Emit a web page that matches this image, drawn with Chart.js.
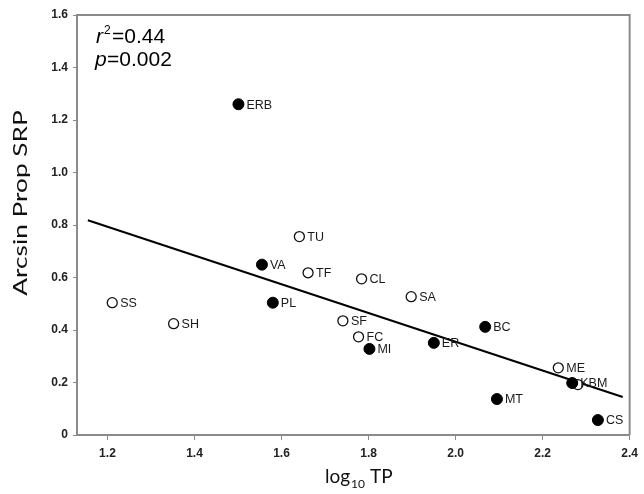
<!DOCTYPE html>
<html>
<head>
<meta charset="utf-8">
<script src="https://cdn.jsdelivr.net/npm/chart.js@4/dist/chart.umd.min.js"></script>
<style>
  html, body { margin: 0; padding: 0; background: #fff; }
  #wrap { width: 644px; height: 494px; position: relative; }
</style>
</head>
<body>
<div id="wrap"><canvas id="grafico"></canvas></div>
<script>
// sitios y valores
const sitios   = ['ERB', 'TU', 'VA', 'TF', 'CL', 'SA', 'PL', 'SS', 'SH', 'SF', 'FC', 'MI', 'ER', 'BC', 'ME', '', 'KBM', 'MT', 'CS'];
const logTP    = [1.501, 1.641, 1.555, 1.661, 1.784, 1.898, 1.580, 1.211, 1.352, 1.741, 1.777, 1.802, 1.950, 2.068, 2.236, 2.281, 2.268, 2.095, 2.327];
const arcsSRP  = [1.260, 0.756, 0.649, 0.618, 0.595, 0.527, 0.504, 0.504, 0.424, 0.435, 0.374, 0.328, 0.351, 0.412, 0.256, 0.192, 0.198, 0.137, 0.057];
const relleno  = [true, false, true, false, false, false, true, false, false, false, false, true, true, true, false, false, true, true, true];

// recta de ajuste (extremos leidos)
const ajusteX = [1.155, 2.384];
const ajusteY = [0.818, 0.145];

const xTicks = [1.2, 1.4, 1.6, 1.8, 2.0, 2.2, 2.4];
const yTicks = [0, 0.2, 0.4, 0.6, 0.8, 1.0, 1.2, 1.4, 1.6];

const puntos = (cond) => logTP.map((x, i) => ({ x, y: arcsSRP[i], lab: sitios[i] })).filter((_, i) => relleno[i] === cond);
const fuenteTick = { family: '"Liberation Sans", Arial, sans-serif', size: 12, weight: 'bold' };

const extras = {
    id: 'extras',
    afterDraw(chart) {
        const { ctx, chartArea: ca, scales: { x, y } } = chart;
        ctx.save();
        // marco
        ctx.strokeStyle = '#8a8a8a'; ctx.lineWidth = 2;
        ctx.beginPath();
        ctx.moveTo(ca.left, ca.top); ctx.lineTo(ca.right, ca.top); ctx.lineTo(ca.right, ca.bottom);
        ctx.stroke();
        // etiquetas de puntos
        ctx.fillStyle = '#1a1a1a'; ctx.font = '12.5px "Liberation Sans", Arial, sans-serif';
        ctx.textBaseline = 'middle'; ctx.textAlign = 'left';
        logTP.forEach((v, i) => {
            if (!sitios[i]) return;
            ctx.fillText(sitios[i], x.getPixelForValue(v) + 8, y.getPixelForValue(arcsSRP[i]) + 1);
        });
        // r2 y p
        ctx.fillStyle = '#000'; ctx.textBaseline = 'alphabetic';
        ctx.font = 'italic 21px "Liberation Sans", Arial, sans-serif';
        ctx.fillText('r', 96, 43);
        ctx.font = '12px "Liberation Sans", Arial, sans-serif';
        ctx.fillText('2', 104, 34);
        ctx.font = '21px "Liberation Sans", Arial, sans-serif';
        ctx.fillText('=0.44', 112, 43);
        ctx.font = 'italic 21px "Liberation Sans", Arial, sans-serif';
        ctx.fillText('p', 95, 66);
        ctx.font = '21px "Liberation Sans", Arial, sans-serif';
        ctx.fillText('=0.002', 107, 66);
        // titulos de ejes
        ctx.fillStyle = '#111';
        ctx.font = '19px Lato, "Open Sans", sans-serif';
        ctx.fillText('log', 325, 483);
        let w = ctx.measureText('log').width;
        ctx.font = '12px Lato, "Open Sans", sans-serif';
        ctx.fillText('10', 325 + w + 1, 488);
        let w2 = ctx.measureText('10').width;
        ctx.font = '19px Lato, "Open Sans", sans-serif';
        ctx.fillText('TP', 325 + w + w2 + 6, 483);
        ctx.translate(27, 203); ctx.rotate(-Math.PI / 2); ctx.scale(1.38, 1);
        ctx.textAlign = 'center';
        ctx.fillText('Arcsin Prop SRP', 0, 0);
        ctx.restore();
    }
};

new Chart(document.getElementById('grafico'), {
    type: 'scatter',
    data: {
        datasets: [
            { label: 'ajuste', type: 'line', data: ajusteX.map((x, i) => ({ x, y: ajusteY[i] })),
              borderColor: '#000', borderWidth: 2, pointRadius: 0, fill: false, order: 3 },
            { label: 'abiertos', data: puntos(false), pointRadius: 5, pointBorderWidth: 1.3,
              backgroundColor: '#fff', borderColor: '#111', order: 2 },
            { label: 'llenos', data: puntos(true), pointRadius: 5.5, pointBorderWidth: 1,
              backgroundColor: '#000', borderColor: '#000', order: 1 }
        ]
    },
    options: {
        responsive: true, maintainAspectRatio: false, animation: false,
        layout: { padding: { top: 15, right: 4, left: 0, bottom: 0 } },
        plugins: { legend: { display: false }, tooltip: { enabled: false } },
        scales: {
            x: {
                type: 'linear', min: 1.13, max: 2.4,
                afterBuildTicks: (ax) => { ax.ticks = xTicks.map(v => ({ value: v })); },
                afterFit: (ax) => { ax.height = 59; },
                border: { color: '#8a8a8a', width: 2 },
                grid: { drawOnChartArea: false, drawTicks: true, tickLength: 5, color: '#8a8a8a' },
                ticks: { color: '#222', font: fuenteTick, padding: 6, callback: (v) => v.toFixed(1) }
            },
            y: {
                type: 'linear', min: 0, max: 1.6,
                afterBuildTicks: (ax) => { ax.ticks = yTicks.map(v => ({ value: v })); },
                afterFit: (ax) => { ax.width = 77; },
                border: { color: '#8a8a8a', width: 2 },
                grid: { drawOnChartArea: false, drawTicks: true, tickLength: 4, color: '#8a8a8a' },
                ticks: { color: '#222', font: fuenteTick, padding: 5,
                         callback: (v) => v === 0 ? '0' : v.toFixed(1) }
            }
        }
    },
    plugins: [extras]
});
</script>
</body>
</html>
